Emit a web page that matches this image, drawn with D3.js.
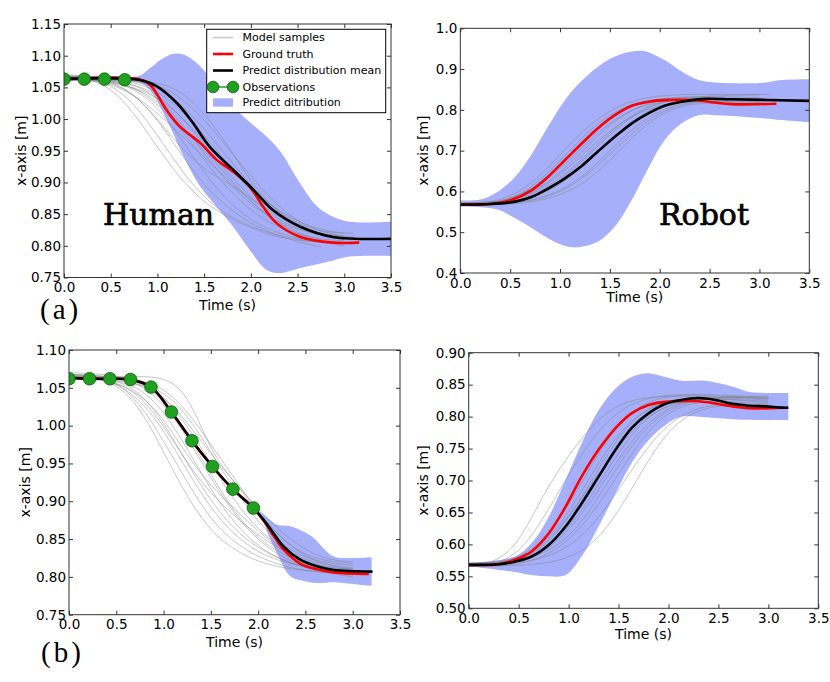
<!DOCTYPE html>
<html><head><meta charset="utf-8">
<script src="https://cdn.jsdelivr.net/npm/d3@7"></script>
<style>body{margin:0;background:#fff} svg{display:block}</style>
</head><body><svg id="c" width="830" height="682"></svg>
<script>
// ---------- DATA ----------
const xTicks = [0, 0.5, 1.0, 1.5, 2.0, 2.5, 3.0, 3.5];
const yTicksTL = [0.75, 0.80, 0.85, 0.90, 0.95, 1.00, 1.05, 1.10, 1.15];
const yTicksTR = [0.4, 0.5, 0.6, 0.7, 0.8, 0.9, 1.0];
const yTicksBL = [0.75, 0.80, 0.85, 0.90, 0.95, 1.00, 1.05, 1.10];
const yTicksBR = [0.50, 0.55, 0.60, 0.65, 0.70, 0.75, 0.80, 0.85, 0.90];

const sampleT = [0, 0.25, 0.5, 0.75, 1.0, 1.25, 1.5, 1.75, 2.0, 2.25, 2.5, 2.75, 3.0, 3.1];

// (a) Human
const samplesTL = [
  [1.066, 1.064, 1.050, 1.010, 0.955, 0.905, 0.868, 0.845, 0.828, 0.815, 0.808, 0.806],
  [1.068, 1.065, 1.055, 1.025, 0.975, 0.920, 0.875, 0.848, 0.830, 0.818, 0.810, 0.805, 0.803],
  [1.064, 1.063, 1.058, 1.040, 1.000, 0.945, 0.895, 0.860, 0.835, 0.818, 0.806, 0.798],
  [1.066, 1.064, 1.060, 1.048, 1.020, 0.970, 0.915, 0.870, 0.840, 0.822, 0.812, 0.806, 0.804],
  [1.070, 1.068, 1.062, 1.050, 1.025, 0.985, 0.935, 0.890, 0.855, 0.832, 0.818, 0.810, 0.808],
  [1.065, 1.064, 1.062, 1.055, 1.035, 0.995, 0.945, 0.900, 0.865, 0.840, 0.825, 0.818, 0.815, 0.814],
  [1.063, 1.062, 1.060, 1.055, 1.040, 1.005, 0.960, 0.915, 0.875, 0.845, 0.826, 0.815, 0.810],
  [1.067, 1.066, 1.064, 1.058, 1.045, 1.015, 0.975, 0.930, 0.885, 0.850, 0.828, 0.818, 0.815],
  [1.062, 1.061, 1.058, 1.050, 1.030, 0.990, 0.950, 0.910, 0.870, 0.838, 0.818, 0.806, 0.800],
  [1.066, 1.065, 1.063, 1.060, 1.050, 1.025, 0.985, 0.940, 0.895, 0.858, 0.835, 0.822, 0.820, 0.820],
  [1.064, 1.063, 1.062, 1.060, 1.055, 1.035, 1.000, 0.955, 0.910, 0.868, 0.838, 0.822, 0.815],
  [1.065, 1.064, 1.063, 1.062, 1.058, 1.045, 1.010, 0.960, 0.900, 0.858, 0.830, 0.815, 0.810],
  [1.068, 1.066, 1.060, 1.040, 1.000, 0.955, 0.920, 0.900, 0.875, 0.850, 0.830, 0.818, 0.812],
  [1.063, 1.062, 1.056, 1.038, 1.010, 0.975, 0.940, 0.905, 0.870, 0.840, 0.820, 0.810],
  [1.066, 1.064, 1.060, 1.050, 1.035, 1.005, 0.965, 0.925, 0.890, 0.860, 0.838, 0.825, 0.820]
];
const bandT_TL  = [0, 0.5, 0.8, 0.92, 1.03, 1.1, 1.17, 1.28, 1.46, 1.63, 1.81, 1.99, 2.17, 2.31, 2.53, 2.71, 2.88, 3.06, 3.5];
const bandHi_TL = [1.069, 1.068, 1.068, 1.080, 1.093, 1.099, 1.103, 1.102, 1.083, 1.051, 1.020, 0.995, 0.972, 0.950, 0.898, 0.862, 0.846, 0.838, 0.838];
const bandLo_TL = [1.060, 1.060, 1.058, 1.046, 1.020, 0.999, 0.977, 0.941, 0.893, 0.862, 0.830, 0.793, 0.762, 0.757, 0.765, 0.771, 0.777, 0.783, 0.784];
const truthT_TL = [0, 0.8, 0.92, 1.10, 1.24, 1.46, 1.63, 1.81, 1.99, 2.13, 2.28, 2.53, 2.88, 3.16];
const truthV_TL = [1.063, 1.063, 1.054, 1.014, 0.988, 0.962, 0.936, 0.917, 0.893, 0.862, 0.835, 0.814, 0.805, 0.805];
const meanT_TL  = [0, 0.8, 0.99, 1.21, 1.38, 1.56, 1.81, 2.03, 2.24, 2.53, 2.88, 3.5];
const meanV_TL  = [1.063, 1.062, 1.052, 1.025, 0.994, 0.956, 0.920, 0.888, 0.856, 0.830, 0.814, 0.811];
const obsT_TL   = [0, 0.217, 0.433, 0.65];
const obsV_TL   = [1.063, 1.063, 1.063, 1.062];

// (a) Robot
const samplesTR = [
  [0.570, 0.572, 0.585, 0.625, 0.690, 0.755, 0.800, 0.825, 0.835, 0.838, 0.838, 0.838, 0.838, 0.838],
  [0.568, 0.570, 0.580, 0.610, 0.665, 0.730, 0.785, 0.815, 0.828, 0.832, 0.832, 0.832, 0.830],
  [0.566, 0.567, 0.575, 0.600, 0.645, 0.705, 0.765, 0.805, 0.825, 0.830, 0.830, 0.828, 0.826],
  [0.572, 0.573, 0.578, 0.595, 0.630, 0.685, 0.745, 0.795, 0.820, 0.828, 0.828, 0.825, 0.822],
  [0.569, 0.570, 0.573, 0.587, 0.615, 0.665, 0.725, 0.780, 0.812, 0.825, 0.826, 0.822, 0.820],
  [0.567, 0.568, 0.571, 0.580, 0.600, 0.640, 0.700, 0.760, 0.800, 0.818, 0.822, 0.820, 0.818],
  [0.565, 0.566, 0.568, 0.575, 0.590, 0.620, 0.675, 0.740, 0.790, 0.812, 0.818, 0.815, 0.810],
  [0.571, 0.572, 0.580, 0.605, 0.655, 0.715, 0.770, 0.805, 0.820, 0.825, 0.826, 0.825, 0.824],
  [0.568, 0.569, 0.574, 0.590, 0.625, 0.680, 0.740, 0.790, 0.818, 0.830, 0.834, 0.836, 0.837],
  [0.570, 0.571, 0.576, 0.598, 0.640, 0.695, 0.750, 0.790, 0.812, 0.820, 0.822, 0.818, 0.815],
  [0.566, 0.567, 0.570, 0.578, 0.597, 0.635, 0.690, 0.750, 0.795, 0.815, 0.822, 0.824, 0.825],
  [0.569, 0.570, 0.579, 0.615, 0.675, 0.740, 0.790, 0.818, 0.828, 0.830, 0.828, 0.826, 0.825]
];
const bandT_TR  = [0, 0.2, 0.38, 0.55, 0.72, 0.88, 1.05, 1.18, 1.38, 1.55, 1.72, 1.85, 2.05, 2.22, 2.39, 2.55, 2.72, 2.89, 3.06, 3.22, 3.5];
const bandHi_TR = [0.578, 0.580, 0.600, 0.636, 0.693, 0.759, 0.824, 0.862, 0.906, 0.931, 0.943, 0.944, 0.922, 0.894, 0.873, 0.867, 0.865, 0.865, 0.867, 0.873, 0.875];
const bandLo_TR = [0.563, 0.561, 0.555, 0.534, 0.510, 0.485, 0.466, 0.463, 0.477, 0.514, 0.579, 0.640, 0.726, 0.767, 0.787, 0.787, 0.785, 0.782, 0.779, 0.775, 0.769];
const truthT_TR = [0, 0.3, 0.51, 0.72, 0.88, 1.05, 1.22, 1.38, 1.55, 1.72, 1.89, 2.05, 2.39, 2.55, 2.72, 3.17];
const truthV_TR = [0.568, 0.569, 0.579, 0.604, 0.636, 0.677, 0.718, 0.755, 0.787, 0.810, 0.820, 0.824, 0.823, 0.818, 0.814, 0.815];
const meanT_TR  = [0, 0.3, 0.55, 0.72, 0.88, 1.05, 1.22, 1.38, 1.55, 1.72, 1.89, 2.05, 2.22, 2.45, 2.72, 3.5];
const meanV_TR  = [0.568, 0.569, 0.575, 0.587, 0.607, 0.632, 0.663, 0.698, 0.734, 0.767, 0.792, 0.810, 0.820, 0.827, 0.826, 0.822];

// (b) Human
const samplesBL = [
  [1.068, 1.066, 1.058, 1.030, 0.980, 0.925, 0.875, 0.845, 0.826, 0.815, 0.808, 0.805, 0.804],
  [1.065, 1.064, 1.055, 1.025, 0.965, 0.905, 0.860, 0.835, 0.820, 0.812, 0.808, 0.806, 0.805],
  [1.066, 1.065, 1.060, 1.045, 1.005, 0.950, 0.900, 0.862, 0.838, 0.822, 0.812, 0.806, 0.803],
  [1.064, 1.063, 1.060, 1.050, 1.020, 0.970, 0.915, 0.870, 0.840, 0.822, 0.812, 0.808, 0.806],
  [1.070, 1.069, 1.066, 1.058, 1.035, 0.990, 0.935, 0.885, 0.850, 0.830, 0.818, 0.812, 0.810],
  [1.063, 1.062, 1.060, 1.055, 1.040, 1.000, 0.950, 0.900, 0.862, 0.838, 0.822, 0.815, 0.812],
  [1.066, 1.065, 1.063, 1.058, 1.045, 1.015, 0.965, 0.915, 0.872, 0.842, 0.825, 0.818, 0.815],
  [1.065, 1.065, 1.065, 1.065, 1.064, 1.045, 0.965, 0.925, 0.885, 0.850, 0.826, 0.815, 0.810],
  [1.062, 1.061, 1.057, 1.042, 1.010, 0.960, 0.920, 0.890, 0.860, 0.835, 0.818, 0.808, 0.802],
  [1.067, 1.066, 1.064, 1.060, 1.050, 1.020, 0.975, 0.930, 0.885, 0.850, 0.828, 0.820, 0.818],
  [1.064, 1.063, 1.058, 1.040, 1.000, 0.950, 0.910, 0.880, 0.855, 0.835, 0.820, 0.812, 0.810],
  [1.066, 1.064, 1.056, 1.035, 0.995, 0.940, 0.890, 0.855, 0.832, 0.820, 0.813, 0.810, 0.808],
  [1.065, 1.064, 1.062, 1.056, 1.040, 1.005, 0.962, 0.925, 0.890, 0.858, 0.835, 0.822, 0.820],
  [1.068, 1.067, 1.064, 1.055, 1.030, 0.985, 0.930, 0.882, 0.848, 0.826, 0.812, 0.805, 0.800]
];
const bandT_BL  = [1.95, 2.02, 2.1, 2.2, 2.34, 2.51, 2.6, 2.69, 2.8, 2.97, 3.2];
const bandHi_BL = [0.891, 0.886, 0.878, 0.869, 0.867, 0.858, 0.850, 0.838, 0.827, 0.825, 0.826];
const bandLo_BL = [0.889, 0.884, 0.858, 0.831, 0.801, 0.794, 0.792, 0.792, 0.793, 0.791, 0.788];
const truthT_BL = [0, 0.217, 0.433, 0.65, 0.867, 1.083, 1.3, 1.517, 1.733, 1.95, 2.06, 2.16, 2.27, 2.44, 2.62, 2.8, 3.17];
const truthV_BL = [1.063, 1.062, 1.062, 1.061, 1.051, 1.018, 0.980, 0.946, 0.916, 0.891, 0.874, 0.855, 0.836, 0.818, 0.810, 0.806, 0.804];
const meanT_BL  = [0, 0.217, 0.433, 0.65, 0.867, 1.083, 1.3, 1.517, 1.733, 1.95, 2.06, 2.16, 2.27, 2.44, 2.62, 2.8, 3.21];
const meanV_BL  = [1.063, 1.062, 1.062, 1.061, 1.051, 1.018, 0.980, 0.946, 0.916, 0.891, 0.875, 0.858, 0.840, 0.823, 0.814, 0.809, 0.807];
const obsT_BL   = [0, 0.217, 0.433, 0.65, 0.867, 1.083, 1.3, 1.517, 1.733, 1.95];
const obsV_BL   = [1.062, 1.062, 1.062, 1.061, 1.051, 1.018, 0.980, 0.946, 0.916, 0.891];

// (b) Robot
const samplesBR = [
  [0.568, 0.570, 0.600, 0.680, 0.740, 0.790, 0.820, 0.830, 0.832, 0.832, 0.830, 0.830, 0.830],
  [0.566, 0.568, 0.585, 0.640, 0.710, 0.770, 0.810, 0.828, 0.834, 0.835, 0.834, 0.832, 0.830],
  [0.570, 0.571, 0.578, 0.605, 0.660, 0.730, 0.790, 0.822, 0.832, 0.834, 0.832, 0.830, 0.828],
  [0.567, 0.568, 0.574, 0.595, 0.640, 0.705, 0.770, 0.810, 0.826, 0.830, 0.830, 0.828, 0.826],
  [0.569, 0.570, 0.574, 0.590, 0.625, 0.680, 0.745, 0.795, 0.820, 0.828, 0.828, 0.825, 0.822],
  [0.565, 0.566, 0.569, 0.580, 0.605, 0.650, 0.710, 0.770, 0.808, 0.822, 0.825, 0.822, 0.820],
  [0.568, 0.569, 0.571, 0.578, 0.595, 0.630, 0.685, 0.745, 0.790, 0.812, 0.820, 0.820, 0.818],
  [0.571, 0.572, 0.575, 0.585, 0.610, 0.660, 0.725, 0.780, 0.812, 0.825, 0.830, 0.830, 0.828],
  [0.566, 0.566, 0.567, 0.570, 0.578, 0.600, 0.650, 0.720, 0.780, 0.808, 0.818, 0.818, 0.815],
  [0.570, 0.571, 0.577, 0.600, 0.648, 0.715, 0.775, 0.810, 0.825, 0.828, 0.826, 0.820, 0.815],
  [0.567, 0.568, 0.572, 0.588, 0.620, 0.672, 0.735, 0.785, 0.815, 0.826, 0.830, 0.832, 0.832],
  [0.569, 0.570, 0.576, 0.598, 0.642, 0.700, 0.755, 0.797, 0.818, 0.826, 0.828, 0.826, 0.824]
];
const bandT_BR  = [0, 0.46, 0.63, 0.8, 0.97, 1.13, 1.3, 1.47, 1.63, 1.8, 1.97, 2.13, 2.37, 2.64, 2.8, 3.2];
const bandHi_BR = [0.571, 0.581, 0.602, 0.643, 0.701, 0.758, 0.810, 0.844, 0.862, 0.868, 0.862, 0.856, 0.856, 0.847, 0.839, 0.837];
const bandLo_BR = [0.566, 0.557, 0.552, 0.550, 0.552, 0.581, 0.628, 0.680, 0.727, 0.763, 0.787, 0.800, 0.799, 0.796, 0.795, 0.794];
const truthT_BR = [0, 0.3, 0.46, 0.63, 0.80, 0.97, 1.13, 1.30, 1.47, 1.63, 1.80, 1.97, 2.30, 2.64, 2.80, 3.14];
const truthV_BR = [0.568, 0.569, 0.576, 0.589, 0.617, 0.659, 0.706, 0.748, 0.782, 0.805, 0.818, 0.823, 0.824, 0.816, 0.813, 0.814];
const meanT_BR  = [0, 0.3, 0.46, 0.63, 0.80, 0.97, 1.13, 1.30, 1.47, 1.63, 1.80, 1.97, 2.13, 2.30, 2.47, 2.64, 2.80, 2.97, 3.14, 3.2];
const meanV_BR  = [0.568, 0.569, 0.573, 0.581, 0.599, 0.628, 0.664, 0.706, 0.748, 0.782, 0.805, 0.820, 0.826, 0.829, 0.826, 0.820, 0.817, 0.816, 0.814, 0.814];

const legendLabels = ["Model samples", "Ground truth", "Predict distribution mean", "Observations", "Predict ditribution"];

// ---------- STYLE ----------
const BLUE = "#a6b0fa", RED = "#ff0000", BLACK = "#000000", GREEN = "#20a020", GREENEDGE = "#0d5d0d", GRAY = "#808080";
const FONT = "'DejaVu Sans', sans-serif";

const svg = d3.select("#c");

const panels = [
  { id: "tl", l: 64, r: 391, t: 24, b: 277.5, yDom: [0.75, 1.15], yTicks: yTicksTL, fmt: ".2f",
    samples: samplesTL, bandT: bandT_TL, bandHi: bandHi_TL, bandLo: bandLo_TL,
    truthT: truthT_TL, truthV: truthV_TL, meanT: meanT_TL, meanV: meanV_TL, obsT: obsT_TL, obsV: obsV_TL,
    xlabY: 309.5, ylabX: 26, tag: "Human", tagX: 103, tagY: 225 },
  { id: "tr", l: 460.3, r: 809.3, t: 28.3, b: 273, yDom: [0.4, 1.0], yTicks: yTicksTR, fmt: ".1f",
    samples: samplesTR, bandT: bandT_TR, bandHi: bandHi_TR, bandLo: bandLo_TR,
    truthT: truthT_TR, truthV: truthV_TR, meanT: meanT_TR, meanV: meanV_TR, obsT: [], obsV: [],
    xlabY: 302, ylabX: 428, tag: "Robot", tagX: 659, tagY: 225 },
  { id: "bl", l: 69, r: 400, t: 350, b: 614.7, yDom: [0.75, 1.10], yTicks: yTicksBL, fmt: ".2f",
    samples: samplesBL, bandT: bandT_BL, bandHi: bandHi_BL, bandLo: bandLo_BL,
    truthT: truthT_BL, truthV: truthV_BL, meanT: meanT_BL, meanV: meanV_BL, obsT: obsT_BL, obsV: obsV_BL,
    xlabY: 646.5, ylabX: 30 },
  { id: "br", l: 468.7, r: 818.3, t: 352.7, b: 608.3, yDom: [0.50, 0.90], yTicks: yTicksBR, fmt: ".2f",
    samples: samplesBR, bandT: bandT_BR, bandHi: bandHi_BR, bandLo: bandLo_BR,
    truthT: truthT_BR, truthV: truthV_BR, meanT: meanT_BR, meanV: meanV_BR, obsT: [], obsV: [],
    xlabY: 638.5, ylabX: 428 }
];

const defs = svg.append("defs");

panels.forEach(p => {
  const x = d3.scaleLinear().domain([0, 3.5]).range([p.l, p.r]);
  const y = d3.scaleLinear().domain(p.yDom).range([p.b, p.t]);
  const g = svg.append("g");

  defs.append("clipPath").attr("id", "clip-" + p.id)
    .append("rect").attr("x", p.l).attr("y", p.t).attr("width", p.r - p.l).attr("height", p.b - p.t);
  const plot = g.append("g").attr("clip-path", `url(#clip-${p.id})`);

  const smooth = d3.curveCatmullRom.alpha(0.5);
  const area = d3.area().x(d => x(d[0])).y0(d => y(d[1])).y1(d => y(d[2])).curve(smooth);
  plot.append("path").datum(d3.zip(p.bandT, p.bandLo, p.bandHi)).attr("d", area).attr("fill", BLUE);

  const line = d3.line().x(d => x(d[0])).y(d => y(d[1])).curve(smooth);
  const grayLine = d3.line().x(d => x(d[0])).y(d => y(d[1])).curve(d3.curveBasis);
  p.samples.forEach(s => {
    plot.append("path").datum(s.map((v, i) => [sampleT[i], v])).attr("d", grayLine)
      .attr("fill", "none").attr("stroke", GRAY).attr("stroke-opacity", 0.45).attr("stroke-width", 1);
  });

  plot.append("path").datum(d3.zip(p.truthT, p.truthV)).attr("d", line)
    .attr("fill", "none").attr("stroke", RED).attr("stroke-width", 2.6);
  plot.append("path").datum(d3.zip(p.meanT, p.meanV)).attr("d", line)
    .attr("fill", "none").attr("stroke", BLACK).attr("stroke-width", 2.6);

  plot.selectAll("circle.obs").data(d3.zip(p.obsT, p.obsV)).join("circle").attr("class", "obs")
    .attr("cx", d => x(d[0])).attr("cy", d => y(d[1])).attr("r", 6.3)
    .attr("fill", GREEN).attr("stroke", GREENEDGE).attr("stroke-width", 0.8);

  // axes with inward ticks on all sides
  const yFmt = d3.format(p.fmt), xFmt = d3.format(".1f");
  const axL = g.append("g").attr("transform", `translate(${p.l},0)`)
    .call(d3.axisLeft(y).tickValues(p.yTicks).tickFormat(yFmt).tickSize(-4).tickPadding(3));
  const axB = g.append("g").attr("transform", `translate(0,${p.b})`)
    .call(d3.axisBottom(x).tickValues(xTicks).tickFormat(xFmt).tickSize(-4).tickPadding(5));
  const axT = g.append("g").attr("transform", `translate(0,${p.t})`)
    .call(d3.axisTop(x).tickValues(xTicks).tickFormat("").tickSize(-4));
  const axR = g.append("g").attr("transform", `translate(${p.r},0)`)
    .call(d3.axisRight(y).tickValues(p.yTicks).tickFormat("").tickSize(-4));
  [axL, axB, axT, axR].forEach(a => {
    a.select(".domain").remove();
    a.selectAll(".tick line").attr("stroke", "#333");
    a.selectAll(".tick text").attr("fill", "#000").style("font-family", FONT).style("font-size", "13.5px");
  });

  g.append("rect").attr("x", p.l).attr("y", p.t).attr("width", p.r - p.l).attr("height", p.b - p.t)
    .attr("fill", "none").attr("stroke", "#333").attr("stroke-width", 1);

  g.append("text").attr("x", (p.l + p.r) / 2).attr("y", p.xlabY).attr("text-anchor", "middle")
    .style("font-family", FONT).style("font-size", "14px").text("Time (s)");
  g.append("text").attr("transform", `translate(${p.ylabX},${(p.t + p.b) / 2}) rotate(-90)`)
    .attr("text-anchor", "middle").style("font-family", FONT).style("font-size", "14px").text("x-axis [m]");

  if (p.tag) {
    g.append("text").attr("x", p.tagX).attr("y", p.tagY)
      .style("font-family", "'DejaVu Serif', serif").style("font-size", "30px")
      .attr("stroke", "#000").attr("stroke-width", 0.7).attr("fill", "#000")
      .text(p.tag);
  }
});

// panel tags
svg.append("text").attr("x", 40).attr("y", 319).style("font-family", "'Liberation Serif', serif")
  .style("font-size", "29px").style("letter-spacing", "3px").text("(a)");
svg.append("text").attr("x", 41).attr("y", 662).style("font-family", "'Liberation Serif', serif")
  .style("font-size", "29px").style("letter-spacing", "3px").text("(b)");

// legend
const lg = svg.append("g");
const lx0 = 206.7, ly0 = 29.3, lw = 179, lh = 83.4;
lg.append("rect").attr("x", lx0).attr("y", ly0).attr("width", lw).attr("height", lh)
  .attr("fill", "#fff").attr("stroke", "#000").attr("stroke-width", 1);
const rowY = [37.5, 54, 70.5, 87, 102.5];
const hx1 = 213, hx2 = 233, tx = 242.5;
lg.append("line").attr("x1", hx1).attr("x2", hx2).attr("y1", rowY[0]).attr("y2", rowY[0])
  .attr("stroke", "#c8c8c8").attr("stroke-width", 1.5);
lg.append("line").attr("x1", hx1).attr("x2", hx2).attr("y1", rowY[1]).attr("y2", rowY[1])
  .attr("stroke", RED).attr("stroke-width", 2.6);
lg.append("line").attr("x1", hx1).attr("x2", hx2).attr("y1", rowY[2]).attr("y2", rowY[2])
  .attr("stroke", BLACK).attr("stroke-width", 2.6);
lg.append("line").attr("x1", hx1).attr("x2", hx2).attr("y1", rowY[3]).attr("y2", rowY[3])
  .attr("stroke", GREEN).attr("stroke-width", 1.5);
[hx1, hx2].forEach(cx => lg.append("circle").attr("cx", cx).attr("cy", rowY[3]).attr("r", 5.8)
  .attr("fill", GREEN).attr("stroke", GREENEDGE).attr("stroke-width", 0.8));
lg.append("rect").attr("x", hx1).attr("y", rowY[4] - 4.2).attr("width", hx2 - hx1).attr("height", 8.4)
  .attr("fill", BLUE);
legendLabels.forEach((t, i) => {
  lg.append("text").attr("x", tx).attr("y", rowY[i]).attr("dy", "0.36em")
    .style("font-family", FONT).style("font-size", "11px").text(t);
});
</script></body></html>
